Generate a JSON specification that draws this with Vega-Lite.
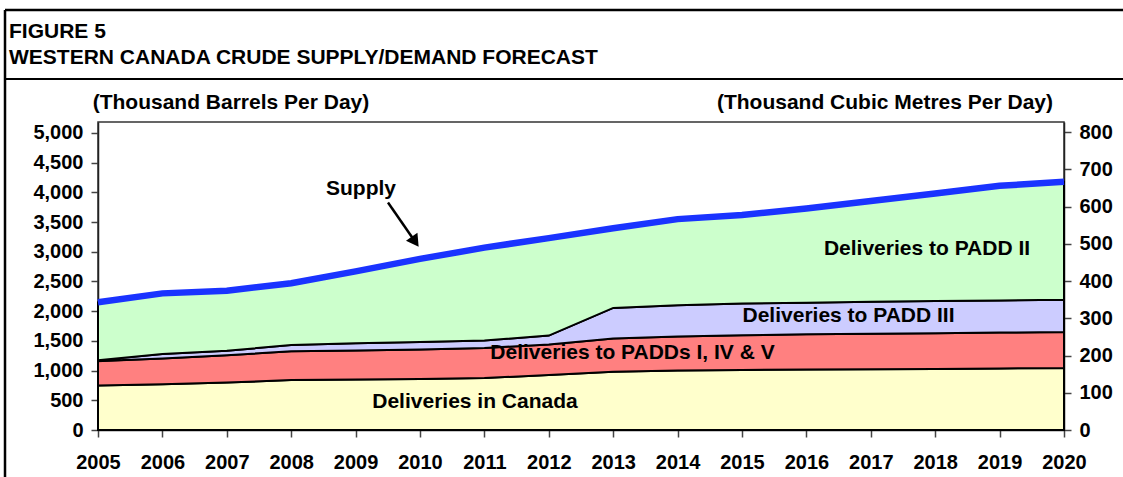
{
  "$schema": "https://vega.github.io/schema/vega-lite/v6.json",
  "width": 966,
  "height": 308,
  "padding": {"left": 3, "top": 8, "right": 0, "bottom": 0},
  "autosize": {"type": "pad"},
  "background": "white",
  "config": {
    "font": "Liberation Sans",
    "view": {"stroke": "#333", "strokeWidth": 1.5},
    "axis": {
      "labelFont": "Liberation Sans",
      "labelFontWeight": "bold",
      "labelFontSize": 20,
      "labelColor": "black",
      "labelOverlap": false,
      "labelFlush": false,
      "domainColor": "#222",
      "domainWidth": 1.5,
      "tickColor": "#444",
      "tickWidth": 1.5,
      "tickSize": 7,
      "grid": false,
      "title": null
    }
  },
  "datasets": {
    "flows": [
      {"year": 2005, "series": "Deliveries in Canada", "rank": 1, "value": 750},
      {"year": 2006, "series": "Deliveries in Canada", "rank": 1, "value": 770},
      {"year": 2007, "series": "Deliveries in Canada", "rank": 1, "value": 800},
      {"year": 2008, "series": "Deliveries in Canada", "rank": 1, "value": 840},
      {"year": 2009, "series": "Deliveries in Canada", "rank": 1, "value": 850},
      {"year": 2010, "series": "Deliveries in Canada", "rank": 1, "value": 860},
      {"year": 2011, "series": "Deliveries in Canada", "rank": 1, "value": 875},
      {"year": 2012, "series": "Deliveries in Canada", "rank": 1, "value": 925},
      {"year": 2013, "series": "Deliveries in Canada", "rank": 1, "value": 980},
      {"year": 2014, "series": "Deliveries in Canada", "rank": 1, "value": 1000},
      {"year": 2015, "series": "Deliveries in Canada", "rank": 1, "value": 1012},
      {"year": 2016, "series": "Deliveries in Canada", "rank": 1, "value": 1018},
      {"year": 2017, "series": "Deliveries in Canada", "rank": 1, "value": 1023},
      {"year": 2018, "series": "Deliveries in Canada", "rank": 1, "value": 1028},
      {"year": 2019, "series": "Deliveries in Canada", "rank": 1, "value": 1035},
      {"year": 2020, "series": "Deliveries in Canada", "rank": 1, "value": 1045},
      {"year": 2005, "series": "Deliveries to PADDs I, IV & V", "rank": 2, "value": 410},
      {"year": 2006, "series": "Deliveries to PADDs I, IV & V", "rank": 2, "value": 435},
      {"year": 2007, "series": "Deliveries to PADDs I, IV & V", "rank": 2, "value": 460},
      {"year": 2008, "series": "Deliveries to PADDs I, IV & V", "rank": 2, "value": 485},
      {"year": 2009, "series": "Deliveries to PADDs I, IV & V", "rank": 2, "value": 490},
      {"year": 2010, "series": "Deliveries to PADDs I, IV & V", "rank": 2, "value": 495},
      {"year": 2011, "series": "Deliveries to PADDs I, IV & V", "rank": 2, "value": 505},
      {"year": 2012, "series": "Deliveries to PADDs I, IV & V", "rank": 2, "value": 515},
      {"year": 2013, "series": "Deliveries to PADDs I, IV & V", "rank": 2, "value": 560},
      {"year": 2014, "series": "Deliveries to PADDs I, IV & V", "rank": 2, "value": 575},
      {"year": 2015, "series": "Deliveries to PADDs I, IV & V", "rank": 2, "value": 583},
      {"year": 2016, "series": "Deliveries to PADDs I, IV & V", "rank": 2, "value": 592},
      {"year": 2017, "series": "Deliveries to PADDs I, IV & V", "rank": 2, "value": 597},
      {"year": 2018, "series": "Deliveries to PADDs I, IV & V", "rank": 2, "value": 602},
      {"year": 2019, "series": "Deliveries to PADDs I, IV & V", "rank": 2, "value": 605},
      {"year": 2020, "series": "Deliveries to PADDs I, IV & V", "rank": 2, "value": 605},
      {"year": 2005, "series": "Deliveries to PADD III", "rank": 3, "value": 15},
      {"year": 2006, "series": "Deliveries to PADD III", "rank": 3, "value": 75},
      {"year": 2007, "series": "Deliveries to PADD III", "rank": 3, "value": 75},
      {"year": 2008, "series": "Deliveries to PADD III", "rank": 3, "value": 105},
      {"year": 2009, "series": "Deliveries to PADD III", "rank": 3, "value": 120},
      {"year": 2010, "series": "Deliveries to PADD III", "rank": 3, "value": 125},
      {"year": 2011, "series": "Deliveries to PADD III", "rank": 3, "value": 125},
      {"year": 2012, "series": "Deliveries to PADD III", "rank": 3, "value": 150},
      {"year": 2013, "series": "Deliveries to PADD III", "rank": 3, "value": 515},
      {"year": 2014, "series": "Deliveries to PADD III", "rank": 3, "value": 525},
      {"year": 2015, "series": "Deliveries to PADD III", "rank": 3, "value": 535},
      {"year": 2016, "series": "Deliveries to PADD III", "rank": 3, "value": 532},
      {"year": 2017, "series": "Deliveries to PADD III", "rank": 3, "value": 538},
      {"year": 2018, "series": "Deliveries to PADD III", "rank": 3, "value": 540},
      {"year": 2019, "series": "Deliveries to PADD III", "rank": 3, "value": 541},
      {"year": 2020, "series": "Deliveries to PADD III", "rank": 3, "value": 543},
      {"year": 2005, "series": "Deliveries to PADD II", "rank": 4, "value": 975},
      {"year": 2006, "series": "Deliveries to PADD II", "rank": 4, "value": 1020},
      {"year": 2007, "series": "Deliveries to PADD II", "rank": 4, "value": 1010},
      {"year": 2008, "series": "Deliveries to PADD II", "rank": 4, "value": 1040},
      {"year": 2009, "series": "Deliveries to PADD II", "rank": 4, "value": 1210},
      {"year": 2010, "series": "Deliveries to PADD II", "rank": 4, "value": 1400},
      {"year": 2011, "series": "Deliveries to PADD II", "rank": 4, "value": 1565},
      {"year": 2012, "series": "Deliveries to PADD II", "rank": 4, "value": 1640},
      {"year": 2013, "series": "Deliveries to PADD II", "rank": 4, "value": 1340},
      {"year": 2014, "series": "Deliveries to PADD II", "rank": 4, "value": 1450},
      {"year": 2015, "series": "Deliveries to PADD II", "rank": 4, "value": 1490},
      {"year": 2016, "series": "Deliveries to PADD II", "rank": 4, "value": 1588},
      {"year": 2017, "series": "Deliveries to PADD II", "rank": 4, "value": 1697},
      {"year": 2018, "series": "Deliveries to PADD II", "rank": 4, "value": 1810},
      {"year": 2019, "series": "Deliveries to PADD II", "rank": 4, "value": 1929},
      {"year": 2020, "series": "Deliveries to PADD II", "rank": 4, "value": 1987}
    ],
    "supply": [
      {"year": 2005, "supply": 2150},
      {"year": 2006, "supply": 2300},
      {"year": 2007, "supply": 2345},
      {"year": 2008, "supply": 2470},
      {"year": 2009, "supply": 2670},
      {"year": 2010, "supply": 2880},
      {"year": 2011, "supply": 3070},
      {"year": 2012, "supply": 3230},
      {"year": 2013, "supply": 3395},
      {"year": 2014, "supply": 3550},
      {"year": 2015, "supply": 3620},
      {"year": 2016, "supply": 3730},
      {"year": 2017, "supply": 3855},
      {"year": 2018, "supply": 3980},
      {"year": 2019, "supply": 4110},
      {"year": 2020, "supply": 4180}
    ],
    "m3ticks": [
      {"m3": 0}, {"m3": 100}, {"m3": 200}, {"m3": 300}, {"m3": 400},
      {"m3": 500}, {"m3": 600}, {"m3": 700}, {"m3": 800}
    ],
    "labels": [
      {"label": "Deliveries to PADD II", "lx": 2017.873, "ly": 3047},
      {"label": "Deliveries to PADD III", "lx": 2016.654, "ly": 1919},
      {"label": "Deliveries to PADDs I, IV & V", "lx": 2013.3, "ly": 1296},
      {"label": "Deliveries in Canada", "lx": 2010.854, "ly": 471},
      {"label": "Supply", "lx": 2009.084, "ly": 4057},
      {"label": "(Thousand Barrels Per Day)", "lx": 2007.065, "ly": 5505},
      {"label": "(Thousand Cubic Metres Per Day)", "lx": 2017.22, "ly": 5505}
    ],
    "titles": [
      {"label": "FIGURE 5", "lx": 2003.618, "ly": 6700},
      {"label": "WESTERN CANADA CRUDE SUPPLY/DEMAND FORECAST", "lx": 2003.618, "ly": 6262}
    ]
  },
  "layer": [
    {
      "layer": [
        {
          "data": {"name": "flows"},
          "mark": {"type": "area", "stroke": "black", "strokeWidth": 2, "interpolate": "linear"},
          "encoding": {
            "x": {
              "field": "year", "type": "quantitative",
              "scale": {"domain": [2005, 2020], "nice": false},
              "axis": {"values": [2005, 2006, 2007, 2008, 2009, 2010, 2011, 2012, 2013, 2014, 2015, 2016, 2017, 2018, 2019, 2020], "format": "d", "labelPadding": 15}
            },
            "y": {
              "field": "value", "type": "quantitative", "stack": "zero",
              "scale": {"domain": [0, 5185], "nice": false, "zero": true},
              "axis": {"values": [0, 500, 1000, 1500, 2000, 2500, 3000, 3500, 4000, 4500, 5000], "format": ",.0f", "labelPadding": 8}
            },
            "fill": {
              "field": "series", "type": "nominal",
              "scale": {
                "domain": ["Deliveries in Canada", "Deliveries to PADDs I, IV & V", "Deliveries to PADD III", "Deliveries to PADD II"],
                "range": ["#FFFFCC", "#FF8080", "#CCCCFF", "#CCFFCC"]
              },
              "legend": null
            },
            "order": {"field": "rank", "type": "quantitative"}
          }
        },
        {
          "data": {"name": "supply"},
          "mark": {"type": "line", "color": "#1a33ff", "strokeWidth": 6.5},
          "encoding": {
            "x": {"field": "year", "type": "quantitative", "scale": {"domain": [2005, 2020], "nice": false},
              "axis": {"values": [2005, 2006, 2007, 2008, 2009, 2010, 2011, 2012, 2013, 2014, 2015, 2016, 2017, 2018, 2019, 2020], "format": "d", "labelPadding": 15}},
            "y": {"field": "supply", "type": "quantitative", "scale": {"domain": [0, 5185], "nice": false, "zero": true},
              "axis": {"values": [0, 500, 1000, 1500, 2000, 2500, 3000, 3500, 4000, 4500, 5000], "format": ",.0f", "labelPadding": 8}}
          }
        },
        {
          "data": {"name": "labels"},
          "mark": {"type": "text", "fontWeight": "bold", "fontSize": 21, "align": "center", "baseline": "middle", "color": "black"},
          "encoding": {
            "x": {"field": "lx", "type": "quantitative", "scale": {"domain": [2005, 2020], "nice": false},
              "axis": {"values": [2005, 2006, 2007, 2008, 2009, 2010, 2011, 2012, 2013, 2014, 2015, 2016, 2017, 2018, 2019, 2020], "format": "d", "labelPadding": 15}},
            "y": {"field": "ly", "type": "quantitative", "scale": {"domain": [0, 5185], "nice": false, "zero": true},
              "axis": {"values": [0, 500, 1000, 1500, 2000, 2500, 3000, 3500, 4000, 4500, 5000], "format": ",.0f", "labelPadding": 8}},
            "text": {"field": "label"}
          }
        },
        {
          "data": {"name": "titles"},
          "mark": {"type": "text", "fontWeight": "bold", "fontSize": 21, "align": "left", "baseline": "middle", "color": "black"},
          "encoding": {
            "x": {"field": "lx", "type": "quantitative", "scale": {"domain": [2005, 2020], "nice": false},
              "axis": {"values": [2005, 2006, 2007, 2008, 2009, 2010, 2011, 2012, 2013, 2014, 2015, 2016, 2017, 2018, 2019, 2020], "format": "d", "labelPadding": 15}},
            "y": {"field": "ly", "type": "quantitative", "scale": {"domain": [0, 5185], "nice": false, "zero": true},
              "axis": {"values": [0, 500, 1000, 1500, 2000, 2500, 3000, 3500, 4000, 4500, 5000], "format": ",.0f", "labelPadding": 8}},
            "text": {"field": "label"}
          }
        },
        {
          "data": {"values": [{}]},
          "mark": {"type": "rule", "color": "black", "strokeWidth": 2.5},
          "encoding": {
            "x": {"datum": 2009.503, "type": "quantitative", "scale": {"domain": [2005, 2020], "nice": false},
              "axis": {"values": [2005, 2006, 2007, 2008, 2009, 2010, 2011, 2012, 2013, 2014, 2015, 2016, 2017, 2018, 2019, 2020], "format": "d", "labelPadding": 15}},
            "y": {"datum": 3830, "type": "quantitative", "scale": {"domain": [0, 5185], "nice": false, "zero": true},
              "axis": {"values": [0, 500, 1000, 1500, 2000, 2500, 3000, 3500, 4000, 4500, 5000], "format": ",.0f", "labelPadding": 8}},
            "x2": {"datum": 2009.925}, "y2": {"datum": 3170}
          }
        },
        {
          "data": {"values": [{}]},
          "mark": {"type": "point", "shape": "triangle-up", "filled": true, "color": "black", "opacity": 1, "size": 196, "angle": 145},
          "encoding": {
            "x": {"datum": 2009.925, "type": "quantitative", "scale": {"domain": [2005, 2020], "nice": false},
              "axis": {"values": [2005, 2006, 2007, 2008, 2009, 2010, 2011, 2012, 2013, 2014, 2015, 2016, 2017, 2018, 2019, 2020], "format": "d", "labelPadding": 15}},
            "y": {"datum": 3170, "type": "quantitative", "scale": {"domain": [0, 5185], "nice": false, "zero": true},
              "axis": {"values": [0, 500, 1000, 1500, 2000, 2500, 3000, 3500, 4000, 4500, 5000], "format": ",.0f", "labelPadding": 8}}
          }
        },
        {
          "data": {"values": [{}]},
          "mark": {"type": "rule", "color": "black", "strokeWidth": 2.5},
          "encoding": {
            "x": {"datum": 2003.556, "type": "quantitative", "scale": {"domain": [2005, 2020], "nice": false},
              "axis": {"values": [2005, 2006, 2007, 2008, 2009, 2010, 2011, 2012, 2013, 2014, 2015, 2016, 2017, 2018, 2019, 2020], "format": "d", "labelPadding": 15}},
            "y": {"datum": 7070, "type": "quantitative", "scale": {"domain": [0, 5185], "nice": false, "zero": true},
              "axis": {"values": [0, 500, 1000, 1500, 2000, 2500, 3000, 3500, 4000, 4500, 5000], "format": ",.0f", "labelPadding": 8}},
            "y2": {"datum": -808}
          }
        },
        {
          "data": {"values": [{}]},
          "mark": {"type": "rule", "color": "black", "strokeWidth": 2.5},
          "encoding": {
            "x": {"datum": 2003.556, "type": "quantitative", "scale": {"domain": [2005, 2020], "nice": false},
              "axis": {"values": [2005, 2006, 2007, 2008, 2009, 2010, 2011, 2012, 2013, 2014, 2015, 2016, 2017, 2018, 2019, 2020], "format": "d", "labelPadding": 15}},
            "x2": {"datum": 2020.93},
            "y": {"datum": 7070, "type": "quantitative", "scale": {"domain": [0, 5185], "nice": false, "zero": true},
              "axis": {"values": [0, 500, 1000, 1500, 2000, 2500, 3000, 3500, 4000, 4500, 5000], "format": ",.0f", "labelPadding": 8}}
          }
        },
        {
          "data": {"values": [{}]},
          "mark": {"type": "rule", "color": "black", "strokeWidth": 2},
          "encoding": {
            "x": {"datum": 2003.556, "type": "quantitative", "scale": {"domain": [2005, 2020], "nice": false},
              "axis": {"values": [2005, 2006, 2007, 2008, 2009, 2010, 2011, 2012, 2013, 2014, 2015, 2016, 2017, 2018, 2019, 2020], "format": "d", "labelPadding": 15}},
            "x2": {"datum": 2020.93},
            "y": {"datum": 5909, "type": "quantitative", "scale": {"domain": [0, 5185], "nice": false, "zero": true},
              "axis": {"values": [0, 500, 1000, 1500, 2000, 2500, 3000, 3500, 4000, 4500, 5000], "format": ",.0f", "labelPadding": 8}}
          }
        }
      ]
    },
    {
      "data": {"name": "m3ticks"},
      "mark": {"type": "point", "opacity": 0},
      "encoding": {
        "y": {
          "field": "m3", "type": "quantitative",
          "scale": {"domain": [0, 827], "nice": false},
          "axis": {"orient": "right", "values": [0, 100, 200, 300, 400, 500, 600, 700, 800], "format": "d", "labelPadding": 8}
        }
      }
    }
  ],
  "resolve": {"scale": {"y": "independent"}, "axis": {"y": "independent"}}
}
